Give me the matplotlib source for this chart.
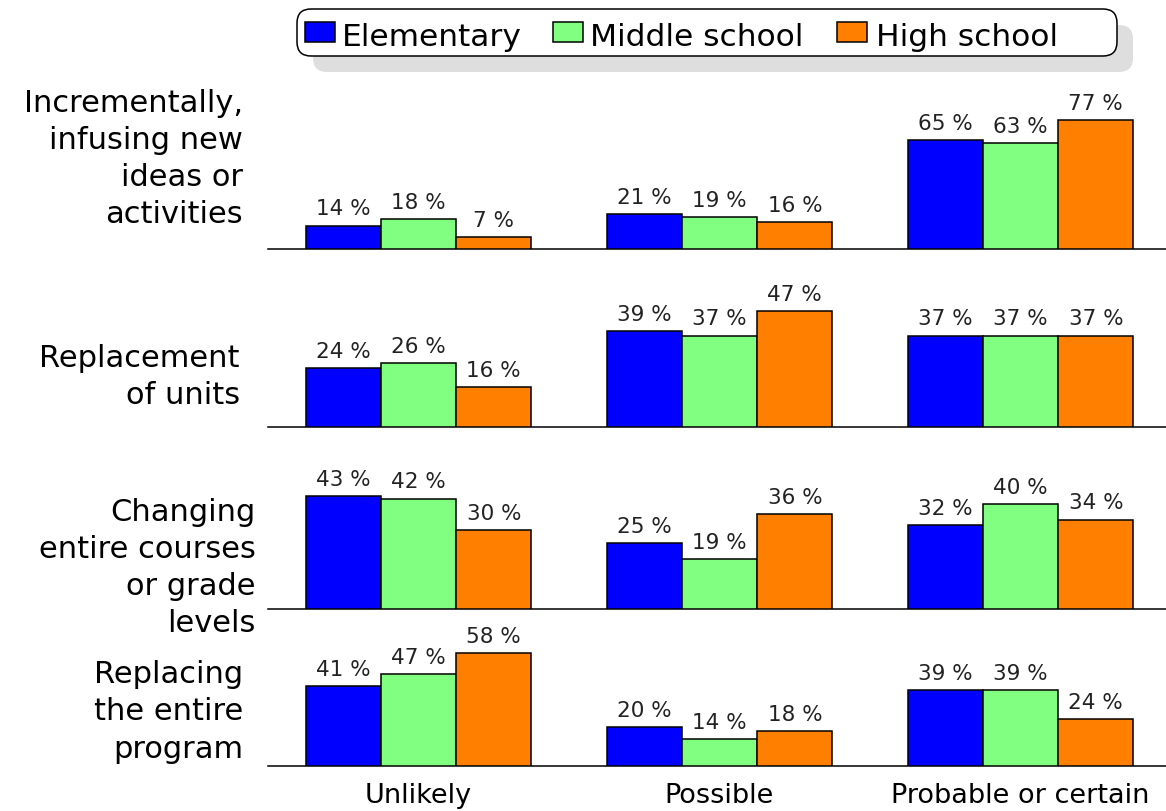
import matplotlib
matplotlib.use("Agg")
import matplotlib.pyplot as plt
from matplotlib.patches import FancyBboxPatch, Rectangle

# ---- data ----
levels = ["Elementary", "Middle school", "High school"]
likelihood = ["Unlikely", "Possible", "Probable or certain"]
approaches = [
    "Incrementally,\ninfusing new\nideas or\nactivities",
    "Replacement\nof units",
    "Changing\nentire courses\nor grade\nlevels",
    "Replacing\nthe entire\nprogram",
]
# values[approach][likelihood] -> [Elementary, Middle school, High school]
incremental = [[14, 18, 7], [21, 19, 16], [65, 63, 77]]
replace_units = [[24, 26, 16], [39, 37, 47], [37, 37, 37]]
change_courses = [[43, 42, 30], [25, 19, 36], [32, 40, 34]]
replace_program = [[41, 47, 58], [20, 14, 18], [39, 39, 24]]
panels = [incremental, replace_units, change_courses, replace_program]

colors = ["#0000ff", "#80ff80", "#ff8000"]

# ---- layout (pixels) ----
W, H = 1166, 812
fig = plt.figure(figsize=(W / 100, H / 100), dpi=100)
fig.patch.set_facecolor("white")

ax_left, ax_right = 268, 1166
# (baseline y, axes top y, pixels per percent, label right x, label center y)
panel_geom = [
    (250, 100, 1.675, 243, 159),
    (428, 278, 2.47, 240, 377),
    (610, 460, 2.63, 256, 568),
    (767, 617, 1.95, 243, 712),
]

bar_w = 0.25
xlim = (-0.5, 2.483)


def fx(px):
    return px / W


def fy(py):
    return 1 - py / H


for data, label, (base, top, scale, lx, ly) in zip(panels, approaches, panel_geom):
    ax = fig.add_axes([fx(ax_left), fy(base), fx(ax_right - ax_left), (base - top) / H])
    ax.set_xlim(*xlim)
    ax.set_ylim(0, (base - top) / scale)
    for j in range(3):
        vals = [data[g][j] for g in range(3)]
        xs = [g + (j - 1) * bar_w for g in range(3)]
        bars = ax.bar(xs, vals, width=bar_w, color=colors[j], edgecolor="black",
                      linewidth=1.1, zorder=3)
        for b, v in zip(bars, vals):
            ax.annotate(f"{v} %", (b.get_x() + b.get_width() / 2, v),
                        xytext=(0, 8), textcoords="offset points",
                        ha="center", va="baseline", fontsize=15.5,
                        color="#222222", clip_on=False)
    for s in ("top", "right", "left"):
        ax.spines[s].set_visible(False)
    ax.spines["bottom"].set_color("black")
    ax.spines["bottom"].set_linewidth(1.1)
    ax.set_xticks([])
    ax.set_yticks([])
    ax.patch.set_alpha(0)
    fig.text(fx(lx), fy(ly), label, ha="right", va="center", fontsize=22,
             linespacing=1.35, color="black")

# category labels along the bottom
for g, name in enumerate(likelihood):
    xpix = ax_left + (g - xlim[0]) / (xlim[1] - xlim[0]) * (ax_right - ax_left)
    fig.text(fx(xpix), fy(796), name, ha="center", va="center", fontsize=19.5)

# legend: rounded frame with an offset grey shadow, drawn on a pixel overlay
ov = fig.add_axes([0, 0, 1, 1], zorder=10)
ov.set_xlim(0, W)
ov.set_ylim(H, 0)
ov.axis("off")
ov.patch.set_alpha(0)

box_x, box_y, box_w, box_h = 297, 10, 820, 47
shadow = FancyBboxPatch((box_x + 16, box_y + 16), box_w, box_h,
                        boxstyle="round,pad=0,rounding_size=14",
                        facecolor="#dedede", edgecolor="none")
frame = FancyBboxPatch((box_x, box_y), box_w, box_h,
                       boxstyle="round,pad=0,rounding_size=14",
                       facecolor="white", edgecolor="black", linewidth=1.1)
ov.add_patch(shadow)
ov.add_patch(frame)

handle_x = [305, 553, 837]
text_x = [342, 590, 876]
for hx, tx, c, name in zip(handle_x, text_x, colors, levels):
    ov.add_patch(Rectangle((hx, 23), 30, 20, facecolor=c, edgecolor="black",
                           linewidth=1.1))
    ov.text(tx, 46, name, ha="left", va="baseline", fontsize=22.5)

fig.savefig("out.png", dpi=100, facecolor="white")
